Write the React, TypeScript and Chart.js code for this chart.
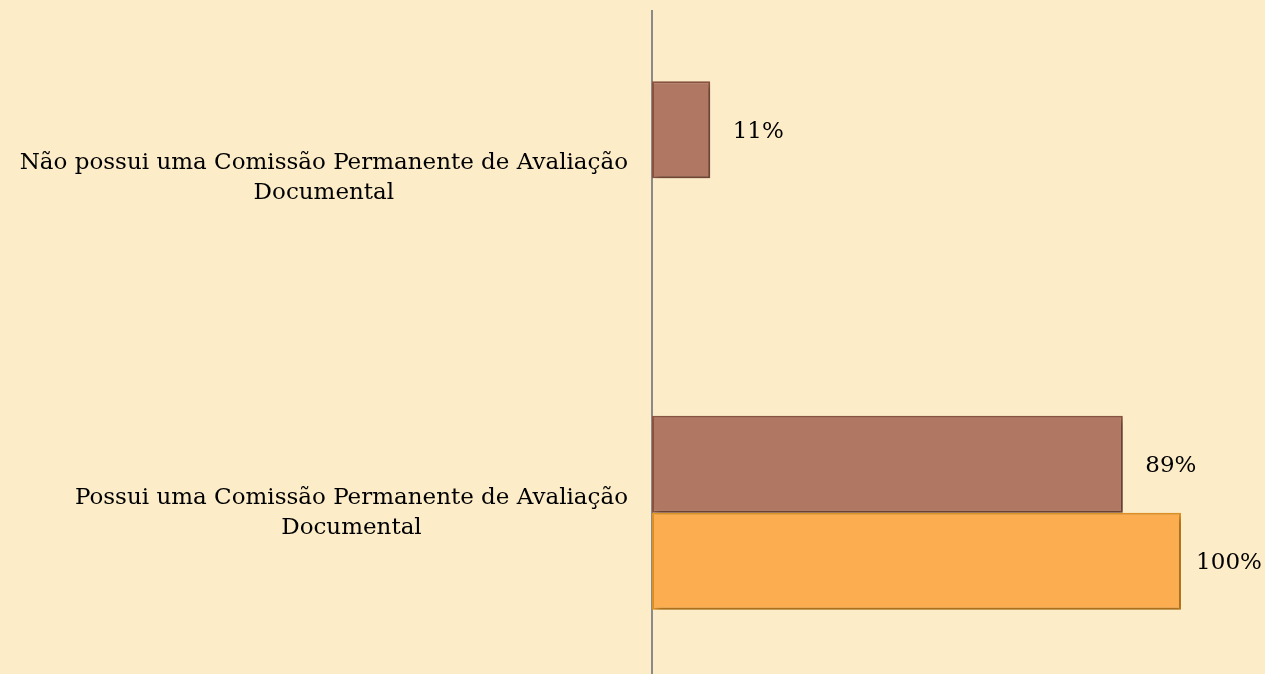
import React, { useEffect, useRef } from 'react';
import { Chart, registerables } from 'chart.js';

Chart.register(...registerables);

const categories: string[][] = [
  ['Não possui uma Comissão Permanente de Avaliação', 'Documental'],
  ['Possui uma Comissão Permanente de Avaliação', 'Documental'],
];
const seriesBrown: (number | null)[] = [11, 89];
const seriesOrange: (number | null)[] = [null, 100];
const valueSuffix = '%';

const BG = '#FCECC8';
const FONT_FAMILY = '"DejaVu Serif", "Liberation Serif", serif';
const FONT_SIZE = 23;

const bgPlugin = {
  id: 'bg',
  beforeDraw(chart: any) {
    const { ctx, width, height } = chart;
    ctx.save();
    ctx.fillStyle = BG;
    ctx.fillRect(0, 0, width, height);
    ctx.restore();
  },
};

const shadowPlugin = {
  id: 'barShadow',
  beforeDatasetsDraw(chart: any) {
    const ctx = chart.ctx;
    ctx.save();
    ctx.shadowColor = 'rgba(0,0,0,0.3)';
    ctx.shadowBlur = 6;
    ctx.shadowOffsetX = 3;
    ctx.shadowOffsetY = 3;
  },
  afterDatasetsDraw(chart: any) {
    chart.ctx.restore();
  },
};

const textPlugin = {
  id: 'texts',
  afterDraw(chart: any) {
    const { ctx, chartArea } = chart;
    const yScale = chart.scales.y;
    ctx.save();
    ctx.font = `${FONT_SIZE}px ${FONT_FAMILY}`;
    ctx.fillStyle = '#000000';
    ctx.textBaseline = 'middle';
    ctx.textAlign = 'center';
    const lineH = 30;
    categories.forEach((lines, i) => {
      const cy = yScale.getPixelForTick(i);
      const maxW = Math.max(...lines.map((l) => ctx.measureText(l).width));
      const cx = chartArea.left - 24 - maxW / 2;
      const top = cy - ((lines.length - 1) * lineH) / 2;
      lines.forEach((l, j) => ctx.fillText(l, cx, top + j * lineH));
    });
    chart.data.datasets.forEach((ds: any, di: number) => {
      const meta = chart.getDatasetMeta(di);
      meta.data.forEach((el: any, i: number) => {
        const v = ds.data[i];
        if (v === null || v === undefined) return;
        ctx.fillText(`${v}${valueSuffix}`, el.x + 48, el.y + 2);
      });
    });
    ctx.restore();
  },
};

export default function App() {
  const ref = useRef<HTMLCanvasElement>(null);
  useEffect(() => {
    if (!ref.current) return;
    const chart = new Chart(ref.current, {
      type: 'bar',
      data: {
        labels: categories,
        datasets: [
          {
            data: seriesBrown,
            backgroundColor: '#B07763',
            borderColor: '#8C5543',
            borderWidth: 2,
            borderSkipped: false,
            barPercentage: 1,
            categoryPercentage: 0.58,
          },
          {
            data: seriesOrange,
            backgroundColor: '#FBAD4F',
            borderColor: '#E29324',
            borderWidth: 2,
            borderSkipped: false,
            barPercentage: 1,
            categoryPercentage: 0.58,
          },
        ],
      } as any,
      options: {
        indexAxis: 'y',
        animation: false,
        responsive: false,
        layout: { padding: { top: 11, right: 84, bottom: 0, left: 0 } },
        plugins: { legend: { display: false }, tooltip: { enabled: false } },
        scales: {
          x: { display: false, min: 0, max: 100 },
          y: {
            grid: { display: false },
            border: { display: true, color: '#8A8A8A', width: 2 },
            ticks: { display: false },
            afterFit: (s: any) => {
              s.width = 652;
            },
          },
        },
      } as any,
      plugins: [bgPlugin, shadowPlugin, textPlugin],
    });
    return () => chart.destroy();
  }, []);
  return (
    <div
      style={{
        position: 'fixed',
        top: 0,
        left: 0,
        width: 1265,
        height: 674,
        overflow: 'hidden',
        background: BG,
      }}
    >
      <canvas ref={ref} width={1265} height={680} style={{ display: 'block' }} />
    </div>
  );
}
